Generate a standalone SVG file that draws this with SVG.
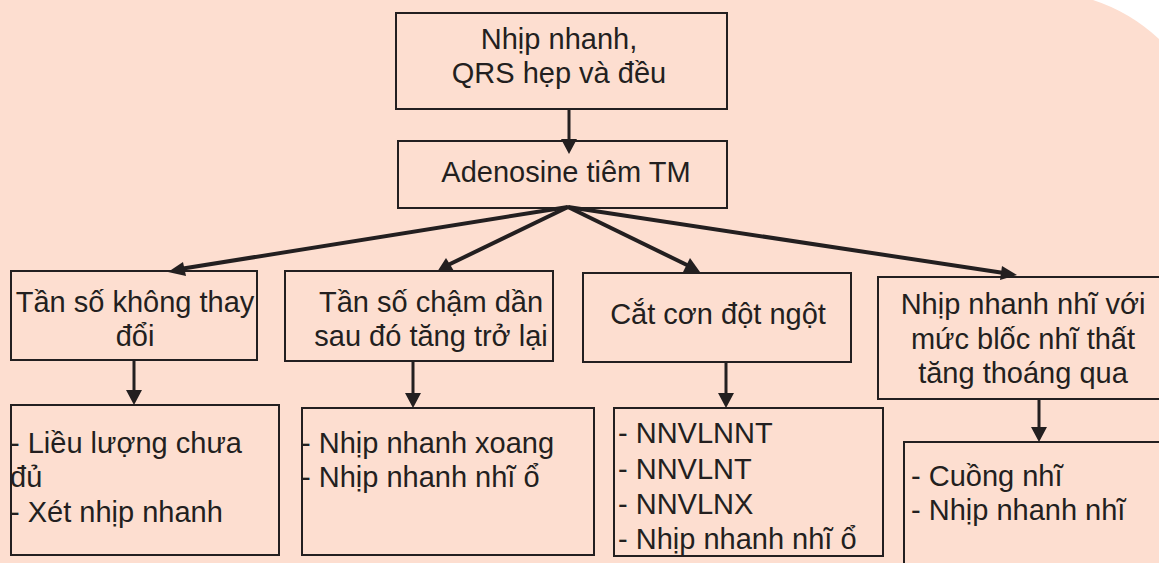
<svg xmlns="http://www.w3.org/2000/svg" width="1159" height="563" viewBox="0 0 1159 563">
  <style>
    .box { fill: none; stroke: #231F20; stroke-width: 2; }
    .lbl { font-family: "Liberation Sans", Arial, sans-serif; font-size: 29px; fill: #231F20; }
    .c { text-anchor: middle; }
    .wire { stroke: #231F20; stroke-width: 4; fill: none; }
    .drop { stroke: #231F20; stroke-width: 3; fill: none; }
    .head { fill: #231F20; }
  </style>

  <!-- page background -->
  <rect x="0" y="0" width="1159" height="563" fill="#FDDED0"/>
  <path d="M1093,0 Q1130,12 1159,39 L1159,0 Z" fill="#FFFFFF"/>

  <!-- connectors -->
  <g id="connectors">
    <!-- start -> adenosine -->
    <line class="drop" x1="569" y1="109" x2="569" y2="141"/>
    <polygon class="head" points="561,139 577,139 569,154"/>

    <!-- adenosine fan-out -->
    <line class="wire" x1="568" y1="207" x2="180" y2="269"/>
    <polygon class="head" points="168,272 183,262 186,276"/>
    <line class="wire" x1="568" y1="207" x2="448" y2="265"/>
    <polygon class="head" points="437,272 446,258 454,271"/>
    <line class="wire" x1="568" y1="207" x2="689" y2="266"/>
    <polygon class="head" points="700,272 683,272 690,258"/>
    <line class="wire" x1="568" y1="207" x2="1004" y2="273"/>
    <polygon class="head" points="1017,275 1000,280 1002,266"/>

    <!-- row 2 -> row 3 -->
    <line class="drop" x1="134" y1="360" x2="134" y2="392"/>
    <polygon class="head" points="126,390 142,390 134,405"/>
    <line class="drop" x1="413" y1="361" x2="413" y2="395"/>
    <polygon class="head" points="405,393 421,393 413,408"/>
    <line class="drop" x1="726" y1="362" x2="726" y2="395"/>
    <polygon class="head" points="718,393 734,393 726,408"/>
    <line class="drop" x1="1039" y1="399" x2="1039" y2="429"/>
    <polygon class="head" points="1031,427 1047,427 1039,442"/>
  </g>

  <!-- start node -->
  <g id="start">
    <rect class="box" x="396" y="13" width="331" height="96"/>
    <text class="lbl c" x="559" y="49">Nhịp nhanh,</text>
    <text class="lbl c" x="559" y="83">QRS hẹp và đều</text>
  </g>

  <g id="adenosine">
    <rect class="box" x="398" y="141" width="329" height="67"/>
    <text class="lbl c" x="566" y="182">Adenosine tiêm TM</text>
  </g>

  <!-- responses -->
  <g id="rate-unchanged">
    <rect class="box" x="11" y="271" width="246" height="89"/>
    <text class="lbl c" x="135" y="312">Tần số không thay</text>
    <text class="lbl c" x="135" y="346">đổi</text>
  </g>

  <g id="rate-slows">
    <rect class="box" x="285" y="271" width="268" height="90"/>
    <text class="lbl c" x="431" y="312">Tần số chậm dần</text>
    <text class="lbl c" x="431" y="346">sau đó tăng trở lại</text>
  </g>

  <g id="abrupt-stop">
    <rect class="box" x="583" y="273" width="268" height="89"/>
    <text class="lbl c" x="718" y="324">Cắt cơn đột ngột</text>
  </g>

  <g id="atrial-block">
    <rect class="box" x="878" y="277" width="300" height="122"/>
    <text class="lbl c" x="1023" y="314">Nhịp nhanh nhĩ với</text>
    <text class="lbl c" x="1023" y="349">mức blốc nhĩ thất</text>
    <text class="lbl c" x="1023" y="383">tăng thoáng qua</text>
  </g>

  <!-- conclusions -->
  <g id="dx-unchanged">
    <rect class="box" x="11" y="405" width="268" height="150"/>
    <text class="lbl" x="10" y="453">- Liều lượng chưa</text>
    <text class="lbl" x="10" y="487">đủ</text>
    <text class="lbl" x="10" y="522">- Xét nhịp nhanh</text>
  </g>

  <g id="dx-slows">
    <rect class="box" x="302" y="408" width="292" height="147"/>
    <text class="lbl" x="301" y="453">- Nhịp nhanh xoang</text>
    <text class="lbl" x="301" y="487">- Nhịp nhanh nhĩ ổ</text>
  </g>

  <g id="dx-abrupt">
    <rect class="box" x="614" y="408" width="269" height="148"/>
    <text class="lbl" x="618" y="443">- NNVLNNT</text>
    <text class="lbl" x="618" y="479">- NNVLNT</text>
    <text class="lbl" x="618" y="514">- NNVLNX</text>
    <text class="lbl" x="618" y="549">- Nhịp nhanh nhĩ ổ</text>
  </g>

  <g id="dx-atrial">
    <rect class="box" x="904" y="442" width="300" height="200"/>
    <text class="lbl" x="911" y="486">- Cuồng nhĩ</text>
    <text class="lbl" x="911" y="520">- Nhịp nhanh nhĩ</text>
  </g>
</svg>
